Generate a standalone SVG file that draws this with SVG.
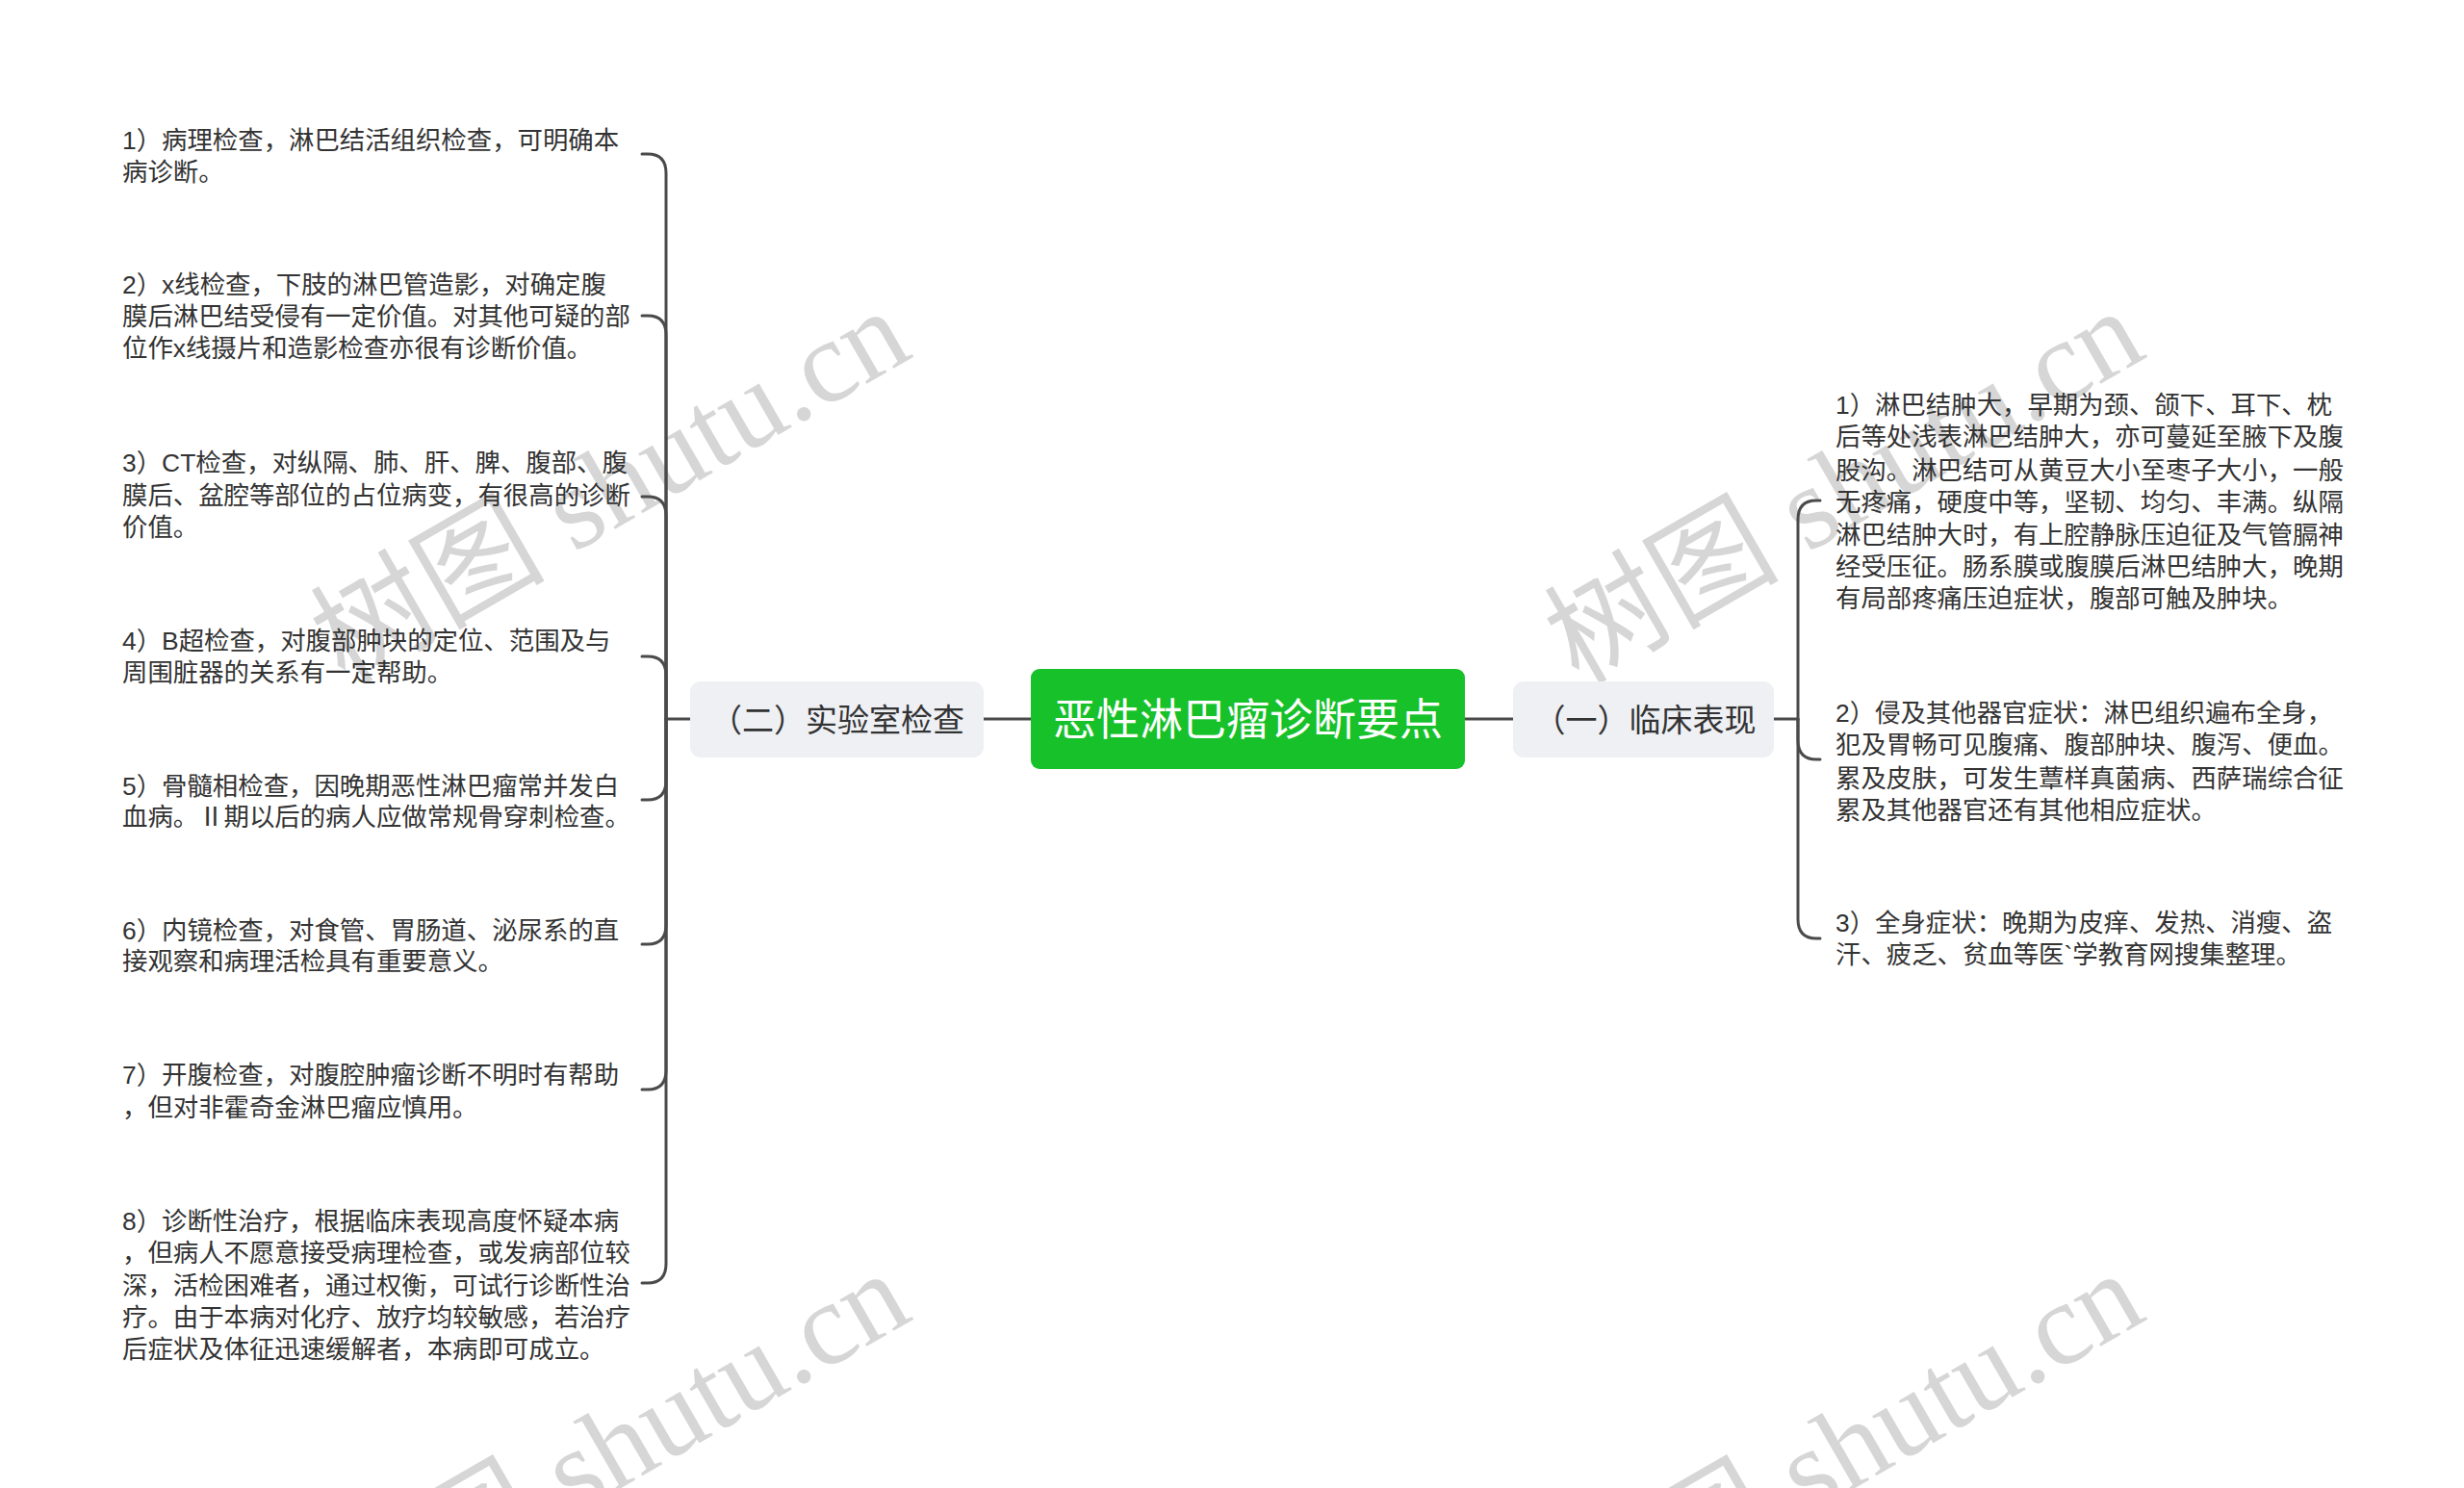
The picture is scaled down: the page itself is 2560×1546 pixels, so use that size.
<svg xmlns="http://www.w3.org/2000/svg" width="2560" height="1546" viewBox="0 0 2560 1546">
<style>
.bg{fill:#ffffff}
.wm{font-family:"Liberation Serif","Noto Sans CJK SC",serif;font-size:122px;fill:#d6d6d6}
.item{font-family:"Liberation Sans","Noto Sans CJK SC",sans-serif;font-size:26.4px;fill:#333333}
.branch rect{fill:#eef0f4}
.branch text{font-family:"Liberation Sans","Noto Sans CJK SC",sans-serif;font-size:33px;fill:#333333;text-anchor:middle}
.root rect{fill:#17c12a}
.root text{font-family:"Liberation Sans","Noto Sans CJK SC",sans-serif;font-size:45px;fill:#ffffff;text-anchor:middle}
.conn path{fill:none;stroke:#4a4a4a;stroke-width:3;stroke-linecap:round}
</style>
<rect class="bg" x="0" y="0" width="2560" height="1546"/>
<g id="watermarks">
<text class="wm" transform="translate(358,712) rotate(-30)">树图 shutu.cn</text>
<text class="wm" transform="translate(1640,712) rotate(-30)">树图 shutu.cn</text>
<text class="wm" transform="translate(358,1712) rotate(-30)">树图 shutu.cn</text>
<text class="wm" transform="translate(1640,1712) rotate(-30)">树图 shutu.cn</text>
</g>
<g id="connectors" class="conn">
<path d="M1071 747 H1022"/>
<path d="M1522 747 H1572"/>
<path d="M717 747 H692"/>
<path d="M692 747 V180 Q692 160 673 160 H667"/>
<path d="M692 747 V348 Q692 328 673 328 H667"/>
<path d="M692 747 V536 Q692 516 673 516 H667"/>
<path d="M692 747 V702 Q692 682 673 682 H667"/>
<path d="M692 747 V811 Q692 831 673 831 H667"/>
<path d="M692 747 V961 Q692 981 673 981 H667"/>
<path d="M692 747 V1112 Q692 1132 673 1132 H667"/>
<path d="M692 747 V1313 Q692 1333 673 1333 H667"/>
<path d="M1843 747 H1868"/>
<path d="M1868 747 V540 Q1868 520 1887 520 H1891"/>
<path d="M1868 747 V769 Q1868 789 1887 789 H1891"/>
<path d="M1868 747 V955 Q1868 975 1887 975 H1891"/>
</g>
<g id="root" class="root">
<rect x="1071" y="695" width="451" height="104" rx="9"/>
<text x="1296.5" y="764">恶性淋巴瘤诊断要点</text>
</g>
<g id="branch-lab" class="branch">
<rect x="717" y="708" width="305" height="79" rx="11"/>
<text x="870" y="760">（二）实验室检查</text>
</g>
<g id="branch-clin" class="branch">
<rect x="1572" y="708" width="271" height="79" rx="11"/>
<text x="1709" y="760">（一）临床表现</text>
</g>
<g id="lab-1"><text class="item" x="127" y="155">1）病理检查，淋巴结活组织检查，可明确本</text><text class="item" x="127" y="188">病诊断。</text></g>
<g id="lab-2"><text class="item" x="127" y="305">2）x线检查，下肢的淋巴管造影，对确定腹</text><text class="item" x="127" y="338">膜后淋巴结受侵有一定价值。对其他可疑的部</text><text class="item" x="127" y="371">位作x线摄片和造影检查亦很有诊断价值。</text></g>
<g id="lab-3"><text class="item" x="127" y="490">3）CT检查，对纵隔、肺、肝、脾、腹部、腹</text><text class="item" x="127" y="524">膜后、盆腔等部位的占位病变，有很高的诊断</text><text class="item" x="127" y="557">价值。</text></g>
<g id="lab-4"><text class="item" x="127" y="675">4）B超检查，对腹部肿块的定位、范围及与</text><text class="item" x="127" y="708">周围脏器的关系有一定帮助。</text></g>
<g id="lab-5"><text class="item" x="127" y="826">5）骨髓相检查，因晚期恶性淋巴瘤常并发白</text><text class="item" x="127" y="858">血病。Ⅱ期以后的病人应做常规骨穿刺检查。</text></g>
<g id="lab-6"><text class="item" x="127" y="976">6）内镜检查，对食管、胃肠道、泌尿系的直</text><text class="item" x="127" y="1008">接观察和病理活检具有重要意义。</text></g>
<g id="lab-7"><text class="item" x="127" y="1126">7）开腹检查，对腹腔肿瘤诊断不明时有帮助</text><text class="item" x="127" y="1160">，但对非霍奇金淋巴瘤应慎用。</text></g>
<g id="lab-8"><text class="item" x="127" y="1278">8）诊断性治疗，根据临床表现高度怀疑本病</text><text class="item" x="127" y="1311">，但病人不愿意接受病理检查，或发病部位较</text><text class="item" x="127" y="1345">深，活检困难者，通过权衡，可试行诊断性治</text><text class="item" x="127" y="1378">疗。由于本病对化疗、放疗均较敏感，若治疗</text><text class="item" x="127" y="1411">后症状及体征迅速缓解者，本病即可成立。</text></g>
<g id="clin-1"><text class="item" x="1907" y="430">1）淋巴结肿大，早期为颈、颌下、耳下、枕</text><text class="item" x="1907" y="463">后等处浅表淋巴结肿大，亦可蔓延至腋下及腹</text><text class="item" x="1907" y="498">股沟。淋巴结可从黄豆大小至枣子大小，一般</text><text class="item" x="1907" y="531">无疼痛，硬度中等，坚韧、均匀、丰满。纵隔</text><text class="item" x="1907" y="565">淋巴结肿大时，有上腔静脉压迫征及气管膈神</text><text class="item" x="1907" y="598">经受压征。肠系膜或腹膜后淋巴结肿大，晚期</text><text class="item" x="1907" y="631">有局部疼痛压迫症状，腹部可触及肿块。</text></g>
<g id="clin-2"><text class="item" x="1907" y="750">2）侵及其他器官症状：淋巴组织遍布全身，</text><text class="item" x="1907" y="783">犯及胃畅可见腹痛、腹部肿块、腹泻、便血。</text><text class="item" x="1907" y="818">累及皮肤，可发生蕈样真菌病、西萨瑞综合征</text><text class="item" x="1907" y="851">累及其他器官还有其他相应症状。</text></g>
<g id="clin-3"><text class="item" x="1907" y="968">3）全身症状：晚期为皮痒、发热、消瘦、盗</text><text class="item" x="1907" y="1001">汗、疲乏、贫血等医`学教育网搜集整理。</text></g>
</svg>
